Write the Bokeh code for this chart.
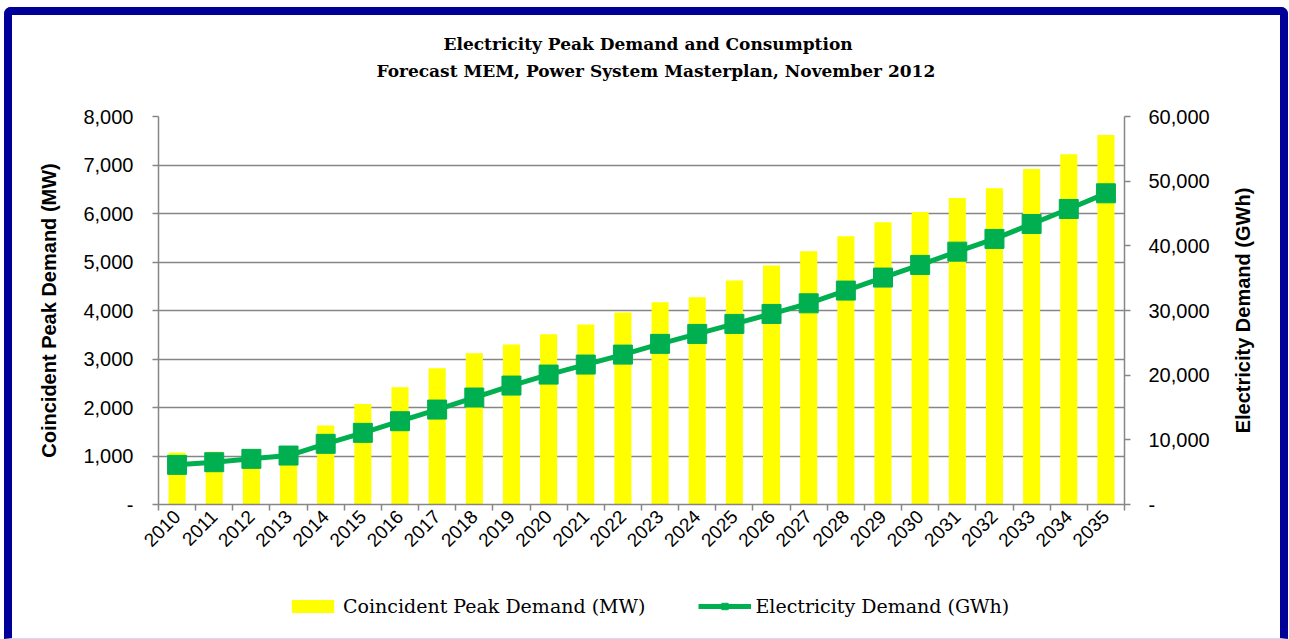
import math
from bokeh.plotting import figure
from bokeh.models import (Range1d, LinearAxis, FixedTicker, NumeralTickFormatter,
                          Legend, LegendItem, ColumnDataSource, Title)
from bokeh.layouts import column, row
from bokeh.embed import file_html
from bokeh.resources import INLINE

# ---- data ----
years = [str(y) for y in range(2010, 2036)]
peak_demand_mw = [1070, 1090, 1040, 1110, 1630, 2070, 2420, 2810, 3120, 3300,
                  3510, 3710, 3960, 4170, 4275, 4620, 4930, 5220, 5530, 5820,
                  6030, 6320, 6520, 6920, 7220, 7620]
electricity_gwh = [6130, 6540, 7060, 7570, 9380, 11080, 12880, 14680, 16540, 18390,
                   20090, 21640, 23180, 24840, 26380, 27930, 29470, 31110, 33080, 35090,
                   37050, 39100, 41070, 43380, 45700, 48120]
left_ticks = [0, 1000, 2000, 3000, 4000, 5000, 6000, 7000, 8000]
right_ticks = [0, 10000, 20000, 30000, 40000, 50000, 60000]

title_lines = ["Electricity Peak Demand and Consumption",
               "Forecast MEM, Power System Masterplan, November 2012"]
series_names = ["Coincident Peak Demand (MW)", "Electricity Demand (GWh)"]

xs = list(range(1, len(years) + 1))
src = ColumnDataSource(dict(x=xs, year=years, mw=peak_demand_mw, gwh=electricity_gwh))

GRAY = "#868686"
BLUE = "#000099"
GREEN = "#00B050"
YELLOW = "#FFFF00"
SERIF = "DejaVu Serif"
SANS = "Liberation Sans"

p = figure(width=1213, height=570, x_range=Range1d(0.5, len(years) + 0.5),
           y_range=Range1d(0, 8000), output_backend="svg", toolbar_location=None,
           min_border_left=146, min_border_right=101, min_border_top=101,
           min_border_bottom=81, outline_line_color=None,
           background_fill_color="white", border_fill_color="white")

p.extra_y_ranges = {"gwh": Range1d(0, 60000)}

bars = p.vbar(x="x", top="mw", width=0.46, source=src, fill_color=YELLOW,
              line_color=None)
ln = p.line(x="x", y="gwh", source=src, y_range_name="gwh", line_color=GREEN,
            line_width=5)
sq = p.scatter(x="x", y="gwh", source=src, y_range_name="gwh", marker="square",
               size=19, fill_color=GREEN, line_color=GREEN)

# titles: spacer (closest to plot), line 2, line 1
p.add_layout(Title(text=" ", text_font_size="1px", standoff=30), "above")
p.add_layout(Title(text=title_lines[1], align="left", offset=218, text_font=SERIF,
                   text_font_style="bold", text_font_size="17px",
                   text_color="black", standoff=5), "above")
p.add_layout(Title(text=title_lines[0], align="left", offset=285, text_font=SERIF,
                   text_font_style="bold", text_font_size="17px",
                   text_color="black", standoff=5), "above")

# x axis
xa = p.xaxis[0]
xa.ticker = FixedTicker(ticks=xs, minor_ticks=[x - 0.5 for x in xs] + [xs[-1] + 0.5])
xa.major_label_overrides = {x: y for x, y in zip(xs, years)}
xa.major_tick_line_color = None
xa.minor_tick_line_color = GRAY
xa.minor_tick_out = 6
xa.minor_tick_in = 0
xa.minor_tick_line_width = 1.5
xa.axis_line_color = GRAY
xa.axis_line_width = 1.5
xa.major_label_orientation = math.pi / 4
xa.major_label_text_font = SANS
xa.major_label_text_font_size = "19px"
xa.major_label_text_color = "black"
xa.major_label_standoff = 3
p.xgrid.grid_line_color = None

# left axis
ya = p.yaxis[0]
ya.ticker = FixedTicker(ticks=left_ticks)
ya.formatter = NumeralTickFormatter(format="0,0")
ya.major_label_overrides = {0: "-"}
ya.axis_label = series_names[0]
ya.axis_label_text_font = SANS
ya.axis_label_text_font_style = "bold"
ya.axis_label_text_font_size = "20px"
ya.axis_label_text_color = "black"
ya.axis_label_standoff = 20
ya.major_label_text_font = SANS
ya.major_label_text_font_size = "20px"
ya.major_label_text_color = "black"
ya.major_label_standoff = 19
ya.major_tick_out = 6
ya.major_tick_in = 0
ya.major_tick_line_color = GRAY
ya.major_tick_line_width = 1.5
ya.minor_tick_line_color = None
ya.axis_line_color = GRAY
ya.axis_line_width = 1.5
p.ygrid.grid_line_color = GRAY
p.ygrid.grid_line_width = 1.5
p.ygrid.ticker = FixedTicker(ticks=left_ticks)

# right axis (ticks and numbers)
ra = LinearAxis(y_range_name="gwh", ticker=FixedTicker(ticks=right_ticks),
                formatter=NumeralTickFormatter(format="0,0"))
ra.major_label_overrides = {0: "-"}
ra.major_label_text_font = SANS
ra.major_label_text_font_size = "20px"
ra.major_label_text_color = "black"
ra.major_label_standoff = 18
ra.major_tick_out = 6
ra.major_tick_in = 0
ra.major_tick_line_color = GRAY
ra.major_tick_line_width = 1.5
ra.minor_tick_line_color = None
ra.axis_line_color = GRAY
ra.axis_line_width = 1.5
p.add_layout(ra, "right")

# right axis title: narrow strip whose left-axis label reads bottom-to-top
rt = figure(width=55, height=570, x_range=Range1d(0, 1), y_range=Range1d(0, 60000),
            output_backend="svg", toolbar_location=None, x_axis_location=None,
            min_border_left=28, min_border_right=0, min_border_top=101,
            min_border_bottom=81, outline_line_color=None,
            background_fill_color="white", border_fill_color="white")
rt.grid.visible = False
rya = rt.yaxis[0]
rya.ticker = FixedTicker(ticks=[])
rya.axis_line_color = None
rya.major_tick_line_color = None
rya.minor_tick_line_color = None
rya.major_label_text_font_size = "0px"
rya.major_label_standoff = 0
rya.axis_label = series_names[1]
rya.axis_label_text_font = SANS
rya.axis_label_text_font_style = "bold"
rya.axis_label_text_font_size = "20px"
rya.axis_label_text_color = "black"
rya.axis_label_standoff = 0

# legend strip (separate figure; its view range keeps the series marks off-screen)
lg = figure(width=1268, height=53, x_range=Range1d(-100, -99), y_range=Range1d(-100, -99),
            output_backend="svg", toolbar_location=None, x_axis_location=None,
            y_axis_location=None, min_border=0, outline_line_color=None,
            background_fill_color="white", border_fill_color="white")
lg.grid.visible = False
lb = lg.vbar(x="x", top="mw", width=0.45, source=src, fill_color=YELLOW, line_color=None)
ll = lg.line(x="x", y="gwh", source=src, line_color=GREEN, line_width=5)
ls = lg.scatter(x="x", y="gwh", source=src, marker="square", size=10,
                fill_color=GREEN, line_color=GREEN)
legend = Legend(items=[LegendItem(label=series_names[0], renderers=[lb]),
                       LegendItem(label=series_names[1], renderers=[ll, ls])],
                orientation="horizontal", location=(274, 21), border_line_color=None,
                background_fill_alpha=0, label_text_font=SERIF,
                label_text_font_size="19px", label_text_color="black",
                glyph_width=53, glyph_height=16, spacing=53, label_standoff=4,
                margin=0, padding=4)
lg.add_layout(legend)

layout = column(row(p, rt, spacing=0), lg, spacing=0,
                styles={"border": "8px solid " + BLUE,
                        "border-bottom": "1px solid #d8d8f0",
                        "border-radius": "7px 7px 0 0",
                        "margin-left": "4px", "margin-top": "7px"})

open("out.html", "w").write(file_html(layout, INLINE))
